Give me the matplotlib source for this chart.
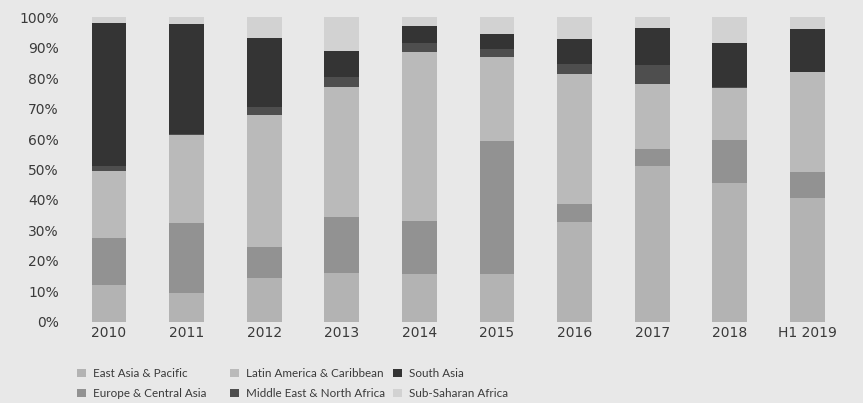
import matplotlib.pyplot as plt
import numpy as np

# Share of volume by region, percent of each period
periods = ["2010", "2011", "2012", "2013", "2014", "2015", "2016", "2017", "2018", "H1 2019"]
east_asia_pacific = [12.1, 9.5, 14.3, 16.1, 15.7, 15.7, 32.9, 51.3, 45.5, 40.5]
europe_central_asia = [15.5, 23.0, 10.3, 18.3, 17.3, 43.6, 5.8, 5.5, 14.2, 8.6]
latin_america_caribbean = [22.0, 28.8, 43.3, 42.6, 55.5, 27.8, 42.7, 21.2, 17.0, 32.8]
middle_east_north_africa = [1.7, 0.3, 2.5, 3.5, 3.2, 2.5, 3.3, 6.2, 0.5, 0.0]
south_asia = [46.9, 36.1, 22.9, 8.5, 5.5, 4.8, 8.1, 12.4, 14.3, 14.3]
sub_saharan_africa = [1.8, 2.3, 6.7, 11.0, 2.8, 5.6, 7.2, 3.4, 8.5, 3.8]

series = [
    ("East Asia & Pacific", east_asia_pacific, "#b3b3b3"),
    ("Europe & Central Asia", europe_central_asia, "#929292"),
    ("Latin America & Caribbean", latin_america_caribbean, "#bababa"),
    ("Middle East & North Africa", middle_east_north_africa, "#4e4e4e"),
    ("South Asia", south_asia, "#343434"),
    ("Sub-Saharan Africa", sub_saharan_africa, "#d2d2d2"),
]

bg = "#e8e8e8"
text_color = "#3a3a3a"
W, H = 863, 403

fig = plt.figure(figsize=(W / 100, H / 100), dpi=100, facecolor=bg)
ax = fig.add_axes([70 / W, 81.3 / H, 780 / W, 304.4 / H])
ax.set_facecolor(bg)

x = np.arange(len(periods))
bottom = np.zeros(len(periods))
handles = {}
for name, values, color in series:
    vals = np.array(values)
    handles[name] = ax.bar(x, vals, width=0.45, bottom=bottom, color=color,
                           edgecolor="none", label=name)
    bottom += vals

ax.set_xlim(-0.503, 9.55)
ax.set_ylim(0, 100)
ax.set_yticks(np.arange(0, 101, 10))
ax.set_yticklabels([f"{v}%" for v in range(0, 101, 10)])
ax.set_xticks(x)
ax.set_xticklabels(periods)
ax.tick_params(length=0, colors=text_color, labelsize=10)
ax.tick_params(axis="y", pad=8)
ax.tick_params(axis="x", pad=3)
for spine in ax.spines.values():
    spine.set_visible(False)

# legend: three fixed columns of two entries each
columns = [
    (77, ["East Asia & Pacific", "Europe & Central Asia"]),
    (230, ["Latin America & Caribbean", "Middle East & North Africa"]),
    (393, ["South Asia", "Sub-Saharan Africa"]),
]
for left, names in columns:
    leg = fig.legend([handles[n] for n in names], names, loc="upper left",
                     bbox_to_anchor=(left / W, (H - 368) / H),
                     borderpad=0, borderaxespad=0, frameon=False,
                     prop={"family": "Lato", "size": 8.4},
                     handlelength=0.75, handleheight=0.75, handletextpad=0.6,
                     labelspacing=0.78)
    for t in leg.get_texts():
        t.set_color(text_color)

fig.savefig("out.png", dpi=100, facecolor=bg)
